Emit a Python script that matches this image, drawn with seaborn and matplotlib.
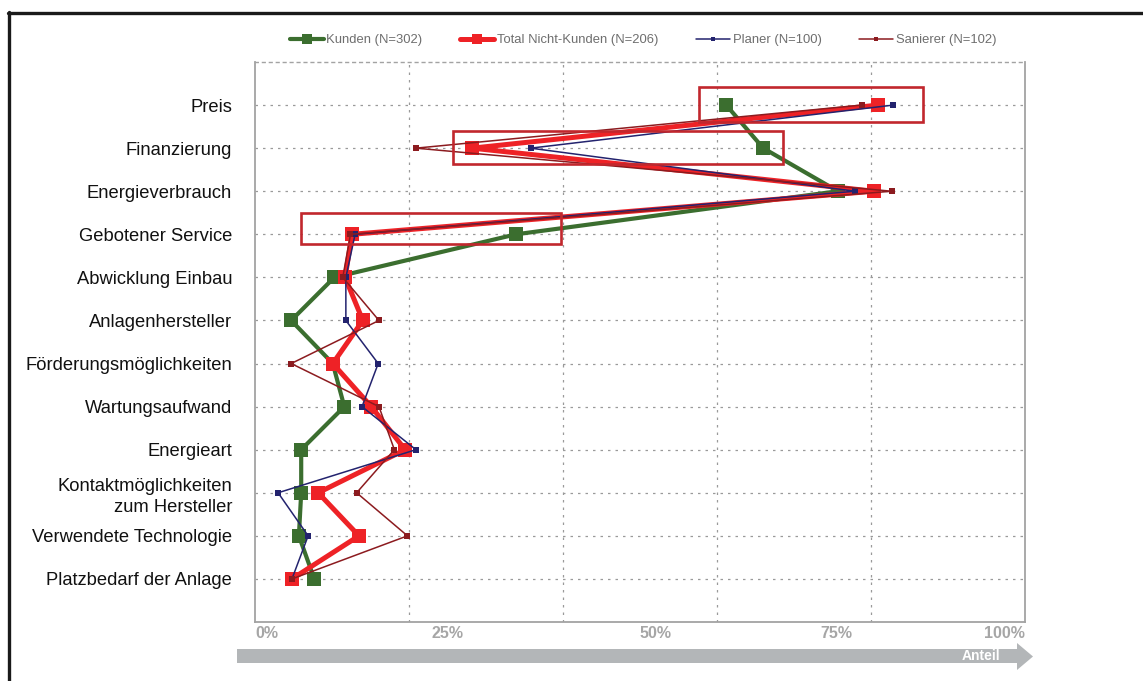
import matplotlib
matplotlib.use("Agg")
import matplotlib.pyplot as plt
from matplotlib.patches import Rectangle, Polygon
from matplotlib.lines import Line2D
import numpy as np
import pandas as pd
import seaborn as sns

# ---- data -----------------------------------------------------------------
categories = [
    "Preis",
    "Finanzierung",
    "Energieverbrauch",
    "Gebotener Service",
    "Abwicklung Einbau",
    "Anlagenhersteller",
    "Förderungsmöglichkeiten",
    "Wartungsaufwand",
    "Energieart",
    "Kontaktmöglichkeiten\nzum Hersteller",
    "Verwendete Technologie",
    "Platzbedarf der Anlage",
]

kunden = [0.612, 0.660, 0.757, 0.339, 0.103, 0.047, 0.101, 0.116, 0.060, 0.060, 0.057, 0.077]
nicht_kunden = [0.809, 0.282, 0.804, 0.126, 0.117, 0.140, 0.101, 0.151, 0.195, 0.082, 0.135, 0.048]
planer = [0.829, 0.358, 0.779, 0.130, 0.118, 0.118, 0.160, 0.139, 0.209, 0.030, 0.069, 0.048]
sanierer = [0.788, 0.209, 0.827, 0.124, 0.114, 0.161, 0.047, 0.161, 0.181, 0.132, 0.198, 0.048]

series_names = [
    "Kunden (N=302)",
    "Total Nicht-Kunden (N=206)",
    "Planer (N=100)",
    "Sanierer (N=102)",
]
tick_labels = ["0%", "25%", "50%", "75%", "100%"]
axis_title = "Anteil"

# ---- styling ----------------------------------------------------------------
sns.set_theme(style="white")
plt.rcParams["font.family"] = ["Liberation Sans", "DejaVu Sans"]

styles = {
    series_names[0]: dict(color="#3b6e2f", linewidth=3.0, markersize=9.5),
    series_names[1]: dict(color="#ee2226", linewidth=3.6, markersize=10.0),
    series_names[2]: dict(color="#23236e", linewidth=1.1, markersize=4.2),
    series_names[3]: dict(color="#8c1b1f", linewidth=1.1, markersize=4.2),
}

# highlight frames: (category row, left share, right share, upper, lower offsets)
highlights = [
    (0, 0.577, 0.868, -0.42, 0.40),
    (1, 0.257, 0.686, -0.40, 0.37),
    (3, 0.060, 0.397, -0.49, 0.23),
]

positions = np.arange(len(categories))
df = pd.concat(
    [
        pd.DataFrame({"Anteil": vals, "pos": positions, "Gruppe": name})
        for name, vals in zip(series_names, [kunden, nicht_kunden, planer, sanierer])
    ],
    ignore_index=True,
)

W, H = 1143, 681
fig = plt.figure(figsize=(W / 100, H / 100), dpi=100)
ax = fig.add_axes([255 / W, 1 - 622 / H, (1025 - 255) / W, (622 - 62) / H])

for z, name in enumerate(series_names):
    st = styles[name]
    sns.lineplot(
        data=df[df["Gruppe"] == name],
        x="Anteil",
        y="pos",
        orient="y",
        sort=False,
        estimator=None,
        ax=ax,
        color=st["color"],
        linewidth=st["linewidth"],
        marker="s",
        markersize=st["markersize"],
        markeredgewidth=0,
        zorder=3 + z,
        label=name,
    )

for row, x0, x1, up, low in highlights:
    ax.add_patch(
        Rectangle(
            (x0, row + up), x1 - x0, low - up,
            fill=False, edgecolor="#c1272d", linewidth=1.9, zorder=10,
        )
    )

ax.set_xlim(0, 1)
ax.set_ylim(len(categories), -1)
ax.set_xticks([0.2, 0.4, 0.6, 0.8])
ax.set_xticklabels([])
ax.set_yticks(positions)
ax.set_yticklabels(categories, fontsize=13.2, color="#111111", linespacing=1.3)
ax.tick_params(axis="y", length=0, pad=16.5)
ax.tick_params(axis="x", length=4, direction="in", color="#9a9a9a", width=0.8)
ax.set_xlabel("")
ax.set_ylabel("")

ax.grid(True, axis="both", color="#9a9a9a", linestyle=(0, (2, 4)), linewidth=0.9)
ax.set_axisbelow(True)
for side in ["left", "right", "bottom"]:
    ax.spines[side].set_color("#a3a3a3")
    ax.spines[side].set_linewidth(1.3)
ax.spines["top"].set_color("#a3a3a3")
ax.spines["top"].set_linestyle((0, (2, 3)))
ax.spines["top"].set_linewidth(1.0)

# percentage labels under the plot
label_pos = [0.0, 0.25, 0.52, 0.755, 1.0]
label_ha = ["left", "center", "center", "center", "right"]
for lbl, xp, ha in zip(tick_labels, label_pos, label_ha):
    ax.text(xp, -0.008, lbl, transform=ax.transAxes, ha=ha, va="top",
            fontsize=11.5, fontweight="bold", color="#a6a6a6")

# legend across the top
ax.get_legend().remove()
handles = [
    Line2D([], [], color=styles[n]["color"], linewidth=styles[n]["linewidth"],
           marker="s", markersize=styles[n]["markersize"] * 0.75, markeredgewidth=0)
    for n in series_names
]
fig.legend(
    handles, series_names, loc="center", ncol=4,
    bbox_to_anchor=(643 / W, 1 - 40 / H), frameon=False,
    fontsize=9.4, labelcolor="#6e6e6e", handlelength=2.6, handletextpad=0.2,
    columnspacing=2.9,
)

# grey axis arrow
def fpt(x, y):
    return (x / W, 1 - y / H)

arrow = Polygon(
    [fpt(237, 649), fpt(1017, 649), fpt(1017, 643), fpt(1033, 656.5),
     fpt(1017, 670), fpt(1017, 663), fpt(237, 663)],
    closed=True, transform=fig.transFigure, facecolor="#b3b6b8",
    edgecolor="none",
)
fig.patches.append(arrow)
fig.text(981 / W, 1 - 656 / H, axis_title, ha="center", va="center",
         fontsize=10, fontweight="bold", color="white")

# outer frame
fig.add_artist(Line2D([8 / W, 1.0], [1 - 13 / H, 1 - 13 / H], transform=fig.transFigure,
                      color="#1a1a1a", linewidth=2.4))
fig.add_artist(Line2D([9 / W, 9 / W], [1 - 12 / H, 0.0], transform=fig.transFigure,
                      color="#1a1a1a", linewidth=2.4))

fig.savefig("out.png", dpi=100, facecolor="white")
